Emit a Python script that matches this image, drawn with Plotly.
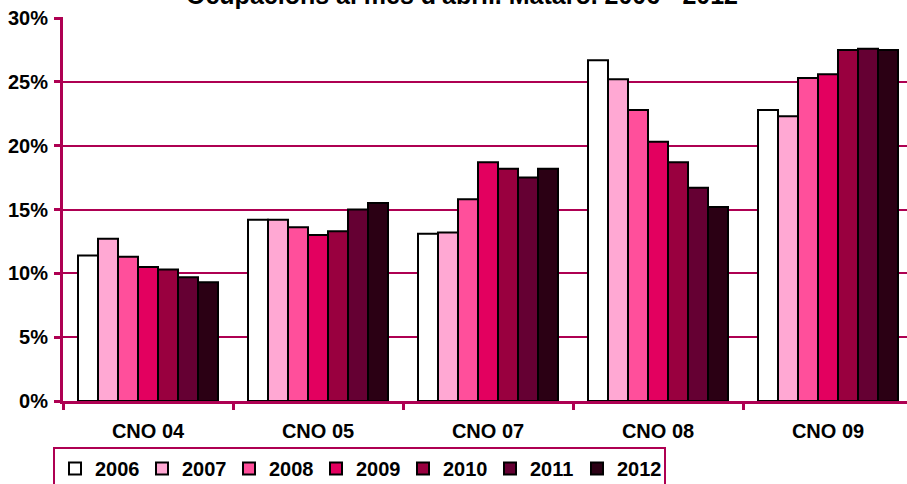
import plotly.graph_objects as go

categories = ["CNO 04", "CNO 05", "CNO 07", "CNO 08", "CNO 09"]
years = ["2006", "2007", "2008", "2009", "2010", "2011", "2012"]
values = {
    "2006": [11.4, 14.2, 13.1, 26.7, 22.8],
    "2007": [12.7, 14.2, 13.2, 25.2, 22.3],
    "2008": [11.3, 13.6, 15.8, 22.8, 25.3],
    "2009": [10.5, 13.0, 18.7, 20.3, 25.6],
    "2010": [10.3, 13.3, 18.2, 18.7, 27.5],
    "2011": [9.7, 15.0, 17.5, 16.7, 27.6],
    "2012": [9.3, 15.5, 18.2, 15.2, 27.5],
}
colors = ["#FFFFFF", "#FFA8D3", "#FF4F9B", "#E3005F", "#99003F", "#650033", "#2B0014"]
y_ticks = [0, 5, 10, 15, 20, 25, 30]
y_tick_labels = ["0%", "5%", "10%", "15%", "20%", "25%", "30%"]
title_text = "Ocupacions al mes d'abril. Mataró. 2006 - 2012"

AX = "#AE0052"
FONT = "Liberation Sans, Arial, sans-serif"

fig = go.Figure()
for yr, col in zip(years, colors):
    fig.add_trace(go.Bar(
        x=categories, y=values[yr], name=yr,
        marker=dict(color=col, line=dict(color="black", width=2)),
    ))

W, H = 907, 484
ml, mt, mr = 63, 17, 0
ph = 401 - mt
mb = H - mt - ph
pw = W - ml - mr
cat_px = 170
y_top = 30 * ph / (401 - 18)  # 30% line sits 1px below the plot top

fig.update_layout(
    width=W, height=H,
    margin=dict(l=ml, r=mr, t=mt, b=mb, pad=0, autoexpand=False),
    paper_bgcolor="white", plot_bgcolor="white",
    barmode="group", bargap=30 / 170, bargroupgap=0,
    font=dict(family=FONT, size=20, color="black"),
    showlegend=True,
    legend=dict(
        orientation="h", x=(53 - ml) / pw, xanchor="left",
        y=(401 - 447) / ph, yanchor="top",
        bordercolor=AX, borderwidth=2, bgcolor="white",
        font=dict(family=FONT, size=20, color="black", weight="bold"),
        entrywidth=42, entrywidthmode="pixels",
        traceorder="normal", itemclick=False,
    ),
    xaxis=dict(
        type="category", range=[-0.5, -0.5 + pw / cat_px], automargin=False,
        showline=True, linecolor=AX, linewidth=3,
        ticks="outside", tickson="boundaries", ticklen=6, tickwidth=3, tickcolor=AX,
        tickfont=dict(family=FONT, size=20, color="black", weight="bold"),
        ticklabelstandoff=10,
        showgrid=False, zeroline=False,
    ),
    yaxis=dict(
        range=[0, y_top], tickmode="array", tickvals=y_ticks, ticktext=y_tick_labels,
        automargin=False, ticklabeloverflow="allow",
        showline=True, linecolor=AX, linewidth=3,
        ticks="outside", ticklen=6, tickwidth=3, tickcolor=AX,
        tickfont=dict(family=FONT, size=20, color="black", weight="bold"),
        ticklabelstandoff=2,
        showgrid=True, gridcolor=AX, gridwidth=2,
        zeroline=False,
    ),
    annotations=[dict(
        text=title_text, xref="paper", yref="paper",
        x=(462 - ml) / pw, y=(401 + 5.5) / ph, xanchor="center", yanchor="middle",
        showarrow=False,
        font=dict(family=FONT, size=25, color="black", weight="bold"),
    )],
)

fig.write_html("out.html", config={"displayModeBar": False},
               post_script="document.body.style.margin='0';")
